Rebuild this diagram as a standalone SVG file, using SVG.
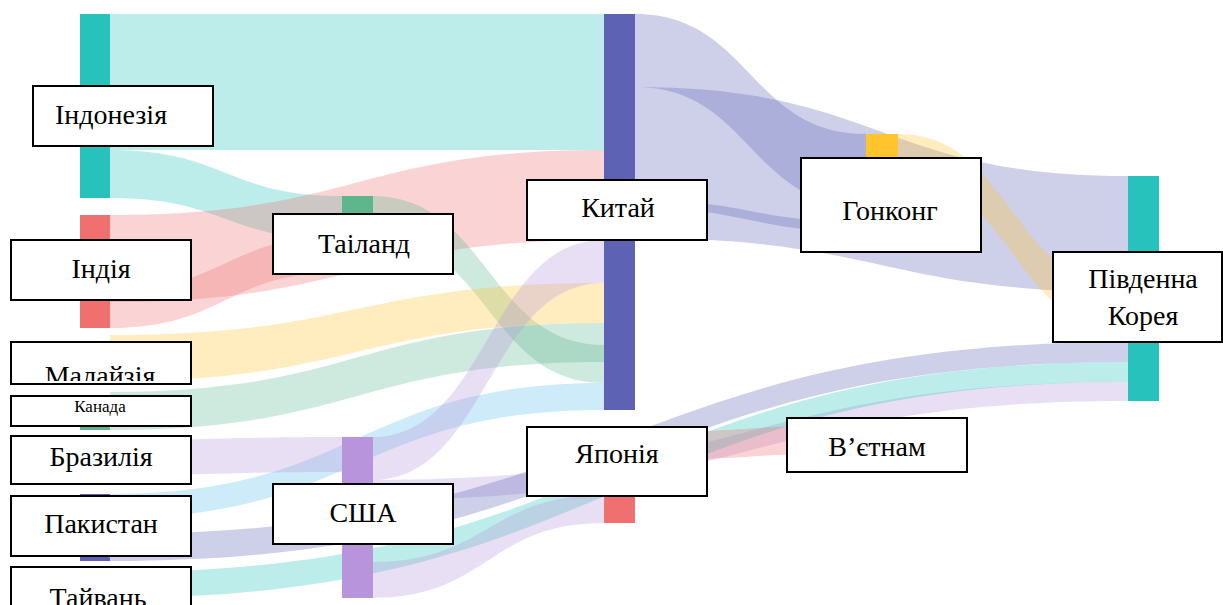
<svg xmlns="http://www.w3.org/2000/svg" width="1223" height="605" viewBox="0 0 1223 605">
<style>
.lk{stroke:none}
.teal{fill:rgba(38,194,187,0.3)}
.red{fill:rgba(240,112,112,0.3)}
.yel{fill:rgba(255,196,46,0.3)}
.grn{fill:rgba(93,182,141,0.3)}
.blu{fill:rgba(93,98,181,0.3)}
.lav{fill:rgba(183,148,220,0.3)}
.lbl{fill:rgba(88,188,232,0.3)}
.box{fill:#fff;stroke:#000;stroke-width:2}
.t{font-family:"Liberation Serif","Times New Roman",serif;font-size:28px;fill:#000;text-anchor:middle}
.ts{font-size:17px}
</style>
<defs>
<clipPath id="clipMal"><rect x="12" y="343" width="178" height="38"/></clipPath>
</defs>
<rect width="1223" height="605" fill="#fff"/>
<g id="links">
<path class="lk teal" d="M110,14 L604,14 L604,150 L110,150 Z"/>
<path class="lk teal" d="M110,150 C226,150 226,196 342,196 L342,240 C226,240 226,198 110,198 Z"/>
<path class="lk red" d="M110,215 C357,215 357,150 604,150 L604,240 C357,240 357,302 110,302 Z"/>
<path class="lk red" d="M110,290 C226,290 226,236 342,236 L342,272 C226,272 226,328 110,328 Z"/>
<path class="lk grn" d="M372,196 C488,196 488,345 604,345 L604,383 C488,383 488,236 372,236 Z"/>
<path class="lk yel" d="M110,335 C357,335 357,283 604,283 L604,323 C357,323 357,381 110,381 Z"/>
<path class="lk grn" d="M110,392 C357,392 357,323 604,323 L604,362 C357,362 357,430 110,430 Z"/>
<path class="lk lbl" d="M110,494 C357,494 357,383 604,383 L604,410 C357,410 357,518 110,518 Z"/>
<path class="lk lav" d="M110,440 C226,440 226,437 342,437 L342,472 C226,472 226,475 110,475 Z"/>
<path class="lk lav" d="M372,437 C488,437 488,240 604,240 L604,283 C488,283 488,480 372,480 Z"/>
<path class="lk lav" d="M372,480 C750,480 750,382 1128,382 L1128,401 C750,401 750,500 372,500 Z"/>
<path class="lk blu" d="M110,534 C619,534 619,342 1128,342 L1128,362 C619,362 619,561 110,561 Z"/>
<path class="lk teal" d="M110,572 C619,572 619,362 1128,362 L1128,382 C619,382 619,598 110,598 Z"/>
<path class="lk lav" d="M372,562 C488,562 488,495 604,495 L604,523 C488,523 488,598 372,598 Z"/>
<path class="lk red" d="M635,432 C750,432 750,425 866,425 L866,453 C750,453 750,460 635,460 Z"/>
<path class="lk blu" d="M635,14 C750,14 750,134 866,134 L866,207 C750,207 750,87 635,87 Z"/>
<path class="lk blu" d="M635,87 C881,87 881,176 1128,176 L1128,292 C881,292 881,238 635,238 Z"/>
<path class="lk blu" d="M635,200 C750,200 750,222 866,222 L866,232 C750,232 750,208 635,208 Z"/>
<path class="lk yel" d="M898,134 C1013,134 1013,290 1128,290 L1128,332 C1013,332 1013,176 898,176 Z"/>
</g>
<g id="node-indonesia"><rect x="80" y="14" width="30" height="184" fill="#26C2BB"/><rect class="box" x="33" y="86" width="180" height="60"/><text class="t" x="111" y="124">Індонезія</text></g>
<g id="node-india"><rect x="80" y="215" width="30" height="113" fill="#F07070"/><rect class="box" x="11" y="240" width="180" height="60"/><text class="t" x="101" y="278">Індія</text></g>
<g id="node-malaysia"><rect x="80" y="343" width="30" height="38" fill="#FFC42E"/><rect class="box" x="11" y="342" width="180" height="42"/><text class="t" x="100" y="385" clip-path="url(#clipMal)">Малайзія</text></g>
<g id="node-canada"><rect x="80" y="396" width="30" height="34" fill="#5DB68D"/><rect class="box" x="11" y="396" width="180" height="30"/><text class="t ts" x="100" y="412">Канада</text></g>
<g id="node-brazil"><rect x="80" y="440" width="30" height="35" fill="#B794DC"/><rect class="box" x="11" y="436" width="180" height="48"/><text class="t" x="101" y="466">Бразилія</text></g>
<g id="node-pakistan"><rect x="80" y="494" width="30" height="67" fill="#5D62B5"/><rect class="box" x="11" y="496" width="180" height="60"/><text class="t" x="101" y="533">Пакистан</text></g>
<g id="node-taiwan"><rect x="80" y="572" width="30" height="26" fill="#26C2BB"/><rect class="box" x="11" y="567" width="180" height="50"/><text class="t" x="98" y="607">Тайвань</text></g>
<g id="node-thailand"><rect x="342" y="196" width="31" height="76" fill="#5DB68D"/><rect class="box" x="273" y="214" width="180" height="60"/><text class="t" x="364" y="253">Таіланд</text></g>
<g id="node-usa"><rect x="342" y="437" width="31" height="161" fill="#B794DC"/><rect class="box" x="273" y="484" width="180" height="60"/><text class="t" x="363" y="522">США</text></g>
<g id="node-china"><rect x="604" y="14" width="31" height="396" fill="#5D62B5"/><rect class="box" x="527" y="180" width="180" height="60"/><text class="t" x="618" y="217">Китай</text></g>
<g id="node-japan"><rect x="604" y="430" width="31" height="93" fill="#F07070"/><rect class="box" x="527" y="427" width="180" height="69"/><text class="t" x="617" y="463">Японія</text></g>
<g id="node-hongkong"><rect x="866" y="134" width="32" height="102" fill="#FFC42E"/><rect class="box" x="801" y="158" width="180" height="94"/><text class="t" x="890" y="220">Гонконг</text></g>
<g id="node-vietnam"><rect x="866" y="425" width="32" height="28" fill="#F07070"/><rect class="box" x="787" y="418" width="180" height="54"/><text class="t" x="877" y="456">В’єтнам</text></g>
<g id="node-southkorea"><rect x="1128" y="176" width="31" height="225" fill="#26C2BB"/><rect class="box" x="1053" y="252" width="169" height="90"/><text class="t" x="1143" y="288">Південна</text><text class="t" x="1143" y="325">Корея</text></g>
</svg>
